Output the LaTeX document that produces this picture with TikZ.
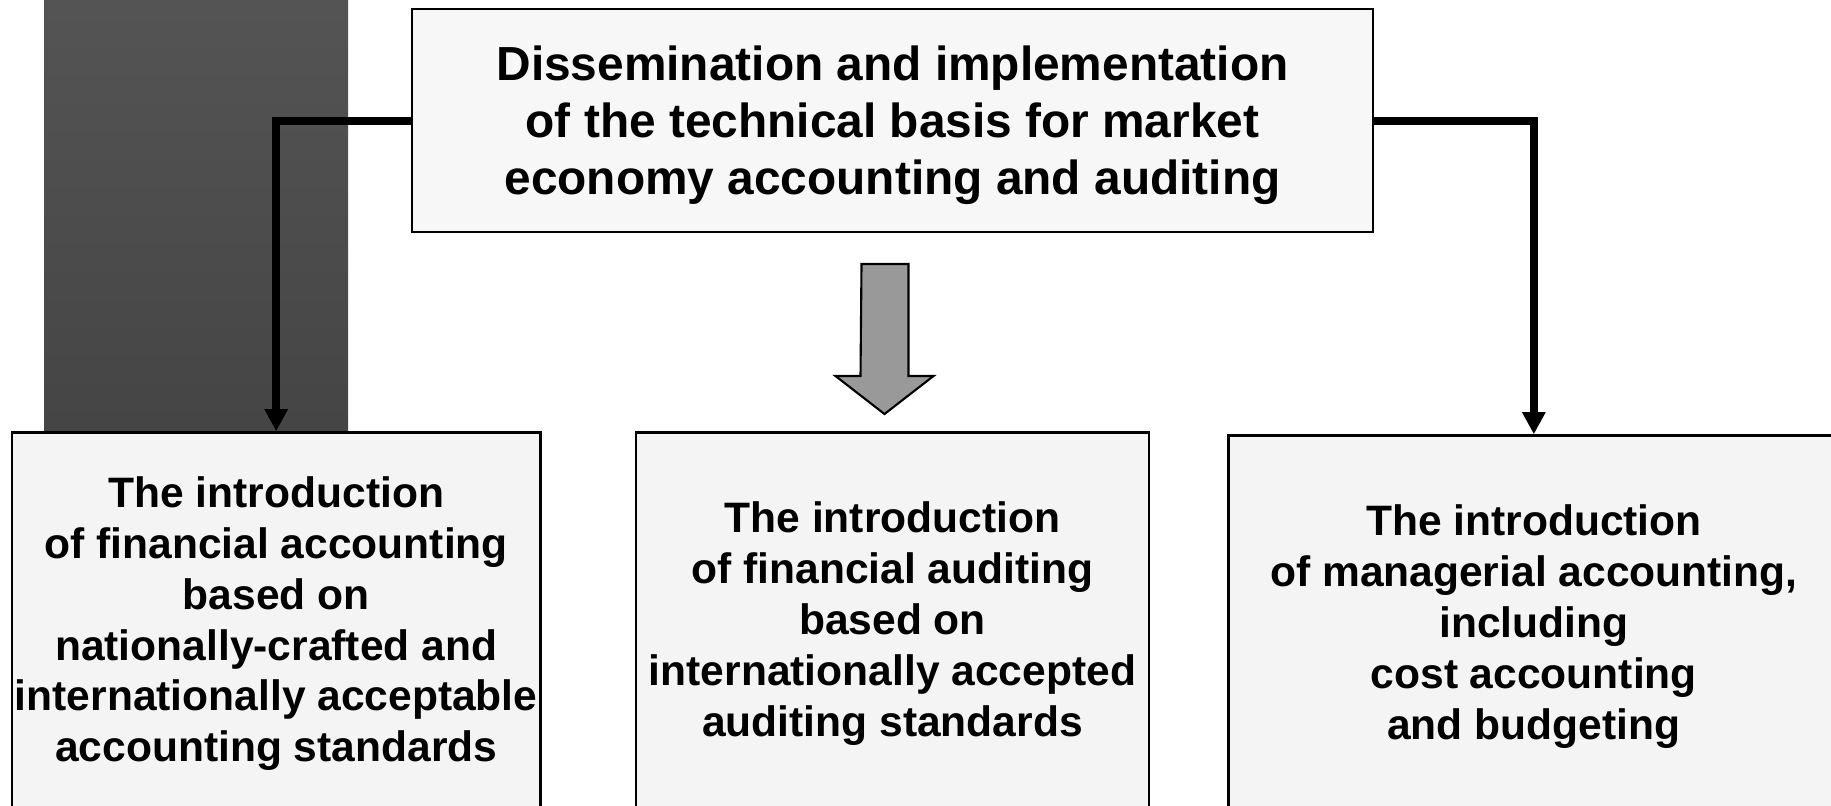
\documentclass[tikz,border=0pt]{standalone}
\usepackage{fontspec}
\setmainfont{Liberation Sans}
\usepackage{tikz}
\usetikzlibrary{shapes, arrows.meta, positioning}
\usetikzlibrary{backgrounds}

\definecolor{topfill}{HTML}{F7F7F7}
\definecolor{boxfill}{HTML}{F4F4F4}
\definecolor{blockgray}{HTML}{999999}

\begin{document}
\begin{tikzpicture}[
    x=0.01cm, y=0.01cm,
    head/.style={rectangle, draw, line width=0.6pt, fill=topfill, inner sep=0pt, align=center, text depth=0pt,
        minimum width=9.61cm, minimum height=2.23cm, font=\bfseries\fontsize{13.6}{16.2}\selectfont},
    intro/.style={rectangle, draw, line width=0.7pt, fill=boxfill, inner sep=0pt, align=center,
        minimum height=3.82cm, font=\bfseries\fontsize{12.1}{14.5}\selectfont},
    link/.style={line width=0.08cm, -{Triangle[width=0.22cm, length=0.22cm]}},
    block/.style={draw, line width=0.6pt, fill=blockgray, line join=miter}
]
\useasboundingbox (0,0) rectangle (1831,-805);

% Top package
\node[head] (Dissem) at (892.5,-120.5) {Dissemination and implementation\\of the technical basis for market\\economy accounting and auditing};

% Introduction boxes
\node[intro, minimum width=5.13cm, below=1.98cm of Dissem] (AuditIntro) {The introduction\\of financial auditing\\based on\\internationally accepted\\auditing standards};
\node[intro, minimum width=5.28cm, left=0.93cm of AuditIntro.north west, anchor=north east] (FinAccIntro) {The introduction\\of financial accounting\\based on\\nationally-crafted and\\internationally acceptable\\accounting standards};
\node[intro, minimum width=6.10cm, right=0.77cm of AuditIntro.north east, anchor=north west, yshift=-0.03cm] (MgmtAccIntro) {The introduction\\of managerial accounting,\\including\\cost accounting\\and budgeting};

\begin{pgfonlayer}{background}
\shade[top color=black!67, bottom color=black!73] (44,0) rectangle (348,-430);
\end{pgfonlayer}

% Connections
\draw[link] (Dissem.west) -| (FinAccIntro.north);
\draw[link] (Dissem.east) -| (MgmtAccIntro.north);

\coordinate (BlockTop) at (885,-264);
\draw[block] (BlockTop) ++(-23.5,0) -- ++(47,0) -- ++(0,-112) -- ++(25,0) -- ++(-49,-38) -- ++(-49,38) -- ++(25,0) -- cycle;

\end{tikzpicture}
\end{document}
